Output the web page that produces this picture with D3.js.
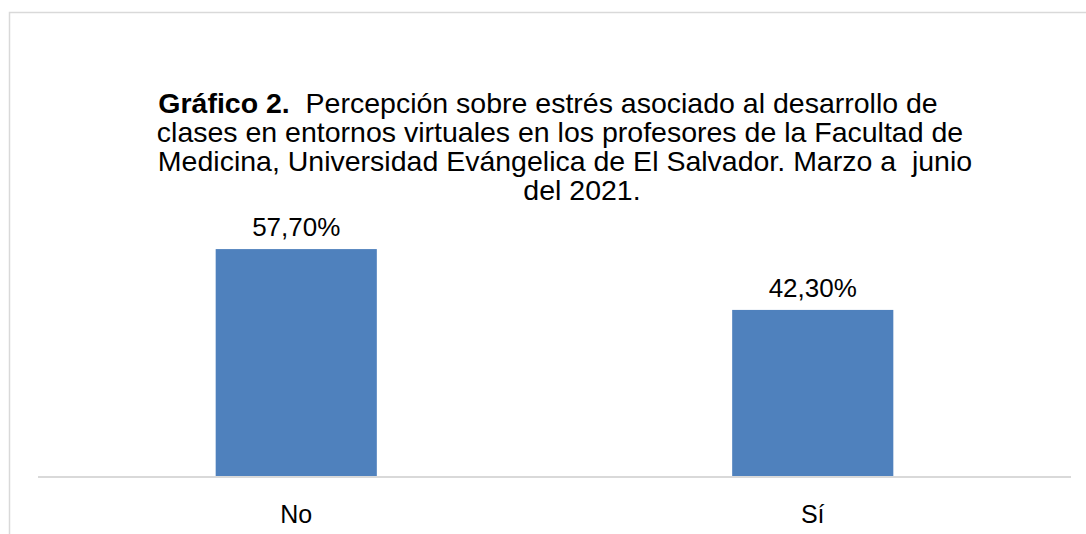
<!DOCTYPE html>
<html>
<head>
<meta charset="utf-8">
<script src="https://cdn.jsdelivr.net/npm/d3@7"></script>
<style>
  html, body { margin: 0; padding: 0; background: #fff; }
  svg { display: block; font-family: "Liberation Sans", Arial, sans-serif; }
</style>
</head>
<body>
<svg id="chart" width="1086" height="534"></svg>
<script>
const categories = ["No", "Sí"];
const values = [57.7, 42.3];
const valueLabels = ["57,70%", "42,30%"];
const titleBold = "Gráfico 2.";
const titleLines = [
  "  Percepción sobre estrés asociado al desarrollo de",
  "clases en entornos virtuales en los profesores de la Facultad de",
  "Medicina, Universidad Evángelica de El Salvador. Marzo a  junio",
  "del 2021."
];

const svg = d3.select("#chart");
const W = 1086, H = 534;

// outer frame
svg.append("rect")
  .attr("x", 9.5).attr("y", 12.5)
  .attr("width", W + 20).attr("height", H + 20)
  .attr("fill", "#fff").attr("stroke", "#d9d9d9").attr("stroke-width", 1.5);

const plot = { left: 38, right: 1071, bottom: 477 };

const x = d3.scaleBand()
  .domain(categories)
  .range([plot.left, plot.right])
  .paddingInner(0.688)
  .paddingOuter(0.344);

const y = d3.scaleLinear()
  .domain([0, 60])
  .range([plot.bottom, plot.bottom - 237]);

// bars
svg.selectAll("rect.bar")
  .data(values)
  .join("rect")
  .attr("class", "bar")
  .attr("x", (d, i) => x(categories[i]))
  .attr("y", d => y(d))
  .attr("width", x.bandwidth())
  .attr("height", d => y(0) - y(d))
  .attr("fill", "#4f81bd");

// x axis
const xAxis = d3.axisBottom(x).tickSize(0).tickPadding(0);
const gx = svg.append("g")
  .attr("transform", `translate(0,${plot.bottom})`)
  .call(xAxis);
gx.select(".domain").attr("stroke", "#d9d9d9").attr("stroke-width", 2)
  .attr("d", `M${plot.left},0H${plot.right}`);
gx.selectAll(".tick text")
  .attr("dy", null)
  .attr("y", 46)
  .attr("font-size", 25)
  .attr("font-family", "Liberation Sans, Arial, sans-serif")
  .attr("fill", "#000");

// value labels
svg.selectAll("text.vlabel")
  .data(values)
  .join("text")
  .attr("class", "vlabel")
  .attr("x", (d, i) => x(categories[i]) + x.bandwidth() / 2)
  .attr("y", d => y(d) - 13)
  .attr("text-anchor", "middle")
  .attr("font-size", 26)
  .attr("fill", "#000")
  .text((d, i) => valueLabels[i]);

// title
const titleCX = [548, 560, 565, 582];
const titleY = [113, 142, 171, 200];
titleLines.forEach((line, i) => {
  const t = svg.append("text")
    .attr("x", titleCX[i]).attr("y", titleY[i])
    .attr("text-anchor", "middle")
    .attr("font-size", 28.5)
    .attr("fill", "#000")
    .attr("xml:space", "preserve")
    .style("white-space", "pre");
  if (i === 0) {
    t.append("tspan").attr("font-weight", "bold").text(titleBold);
  }
  t.append("tspan").text(line);
});
</script>
</body>
</html>
